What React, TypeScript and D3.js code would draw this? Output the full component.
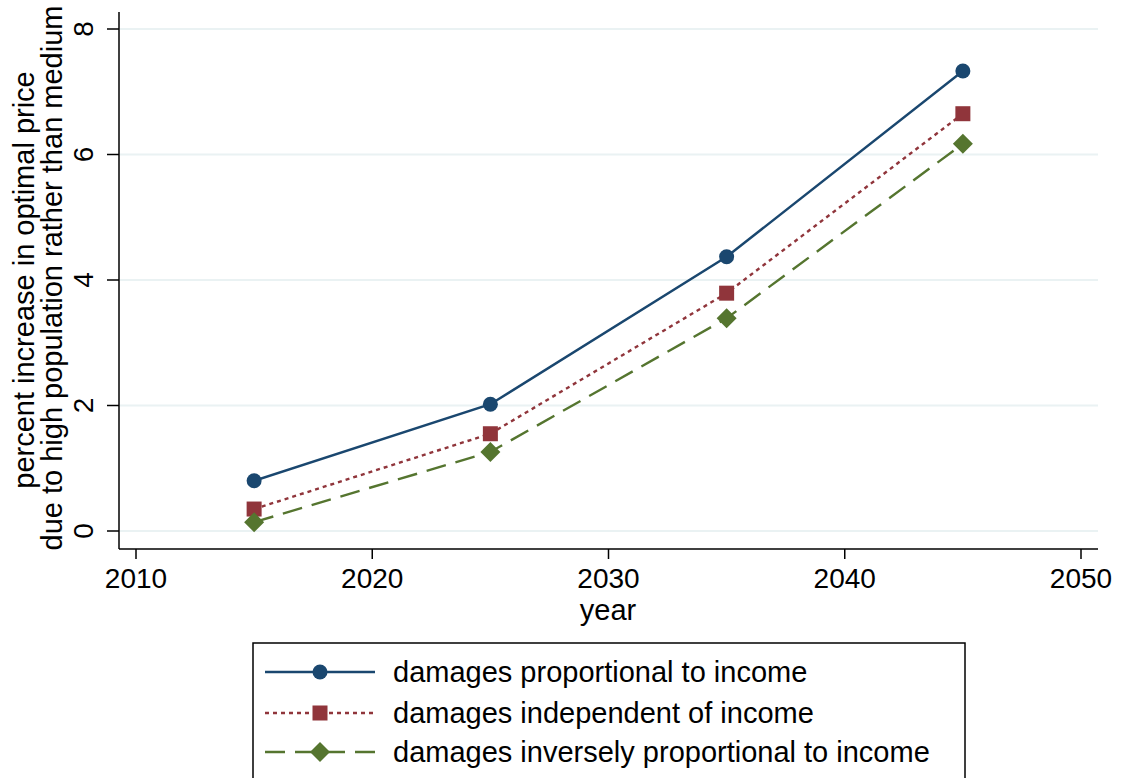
import React from "react";
import * as d3 from "d3";

const years = [2015, 2025, 2035, 2045];
const proportional = [0.8, 2.02, 4.37, 7.33];
const independent = [0.35, 1.55, 3.79, 6.65];
const inverse = [0.14, 1.26, 3.39, 6.17];
const xTicks = [2010, 2020, 2030, 2040, 2050];
const yTicks = [0, 2, 4, 6, 8];
const seriesNames = [
  "damages proportional to income",
  "damages independent of income",
  "damages inversely proportional to income",
];

const W = 1121, H = 778;
const FONT = "'Liberation Sans', Arial, Helvetica, sans-serif";
const colors = ["#1a476f", "#90353b", "#55752f"];
const dashes = ["", "4 4", "20 10"];
const markers = ["circle", "square", "diamond"];

function Marker({ type, x, y, color }: { type: string; x: number; y: number; color: string }) {
  if (type === "circle") return <circle cx={x} cy={y} r={7.5} fill={color} />;
  if (type === "square") return <rect x={x - 7.5} y={y - 7.5} width={15} height={15} fill={color} />;
  const r = 10;
  return <path d={`M${x},${y - r}L${x + r},${y}L${x},${y + r}L${x - r},${y}Z`} fill={color} />;
}

export default function App() {
  const x = d3.scaleLinear().domain([2010, 2050]).range([136, 1081]);
  const y = d3.scaleLinear().domain([0, 8]).range([531, 29]);
  const axisLeft = 119, axisBottom = 549, plotRight = 1098, plotTop = 12;
  const data = [proportional, independent, inverse];
  const line = d3.line<[number, number]>().x((d) => x(d[0])).y((d) => y(d[1]));

  const legX = 253, legY = 643, legW = 712, legH = 145;
  const legRows = [672, 713, 752];
  const fs = 28;
  const fsL = 29;

  return (
    <svg width={W} height={H} style={{ position: "absolute", left: 0, top: 0, background: "#fff" }} fontFamily={FONT}>
      <rect x={0} y={0} width={W} height={H} fill="#fff" />
      {yTicks.map((t) => (
        <line key={"g" + t} x1={axisLeft + 1} x2={plotRight} y1={y(t)} y2={y(t)} stroke="#eaf2f3" strokeWidth={2} />
      ))}
      {/* axes */}
      <line x1={axisLeft} x2={axisLeft} y1={plotTop} y2={axisBottom} stroke="#000" strokeWidth={1.5} />
      <line x1={axisLeft} x2={plotRight} y1={axisBottom} y2={axisBottom} stroke="#000" strokeWidth={1.5} />
      {yTicks.map((t) => (
        <g key={"y" + t}>
          <line x1={axisLeft - 12} x2={axisLeft} y1={y(t)} y2={y(t)} stroke="#000" strokeWidth={1.5} />
          <text transform={`translate(${93},${y(t)}) rotate(-90)`} textAnchor="middle" fontSize={fs}>{t}</text>
        </g>
      ))}
      {xTicks.map((t) => (
        <g key={"x" + t}>
          <line x1={x(t)} x2={x(t)} y1={axisBottom} y2={axisBottom + 10} stroke="#000" strokeWidth={1.5} />
          <text x={x(t)} y={588} textAnchor="middle" fontSize={fs}>{t}</text>
        </g>
      ))}
      <text x={608} y={620} textAnchor="middle" fontSize={fsL}>year</text>
      <text transform={`translate(34,280) rotate(-90)`} textAnchor="middle" fontSize={fsL}>percent increase in optimal price</text>
      <text transform={`translate(62,278) rotate(-90)`} textAnchor="middle" fontSize={fsL}>due to high population rather than medium</text>

      {data.map((vals, i) => {
        const pts = years.map((yr, j) => [yr, vals[j]] as [number, number]);
        return (
          <g key={"s" + i}>
            <path d={line(pts) || ""} fill="none" stroke={colors[i]} strokeWidth={2.4} strokeDasharray={dashes[i]} />
            {pts.map((p, j) => (
              <Marker key={j} type={markers[i]} x={x(p[0])} y={y(p[1])} color={colors[i]} />
            ))}
          </g>
        );
      })}

      <rect x={legX} y={legY} width={legW} height={legH} fill="#fff" stroke="#000" strokeWidth={1.5} />
      {seriesNames.map((name, i) => (
        <g key={"l" + i}>
          <line x1={265} x2={375} y1={legRows[i]} y2={legRows[i]} stroke={colors[i]} strokeWidth={2.4} strokeDasharray={dashes[i]} />
          <Marker type={markers[i]} x={320} y={legRows[i]} color={colors[i]} />
          <text x={393} y={legRows[i] + 10} fontSize={fsL}>{name}</text>
        </g>
      ))}
    </svg>
  );
}
